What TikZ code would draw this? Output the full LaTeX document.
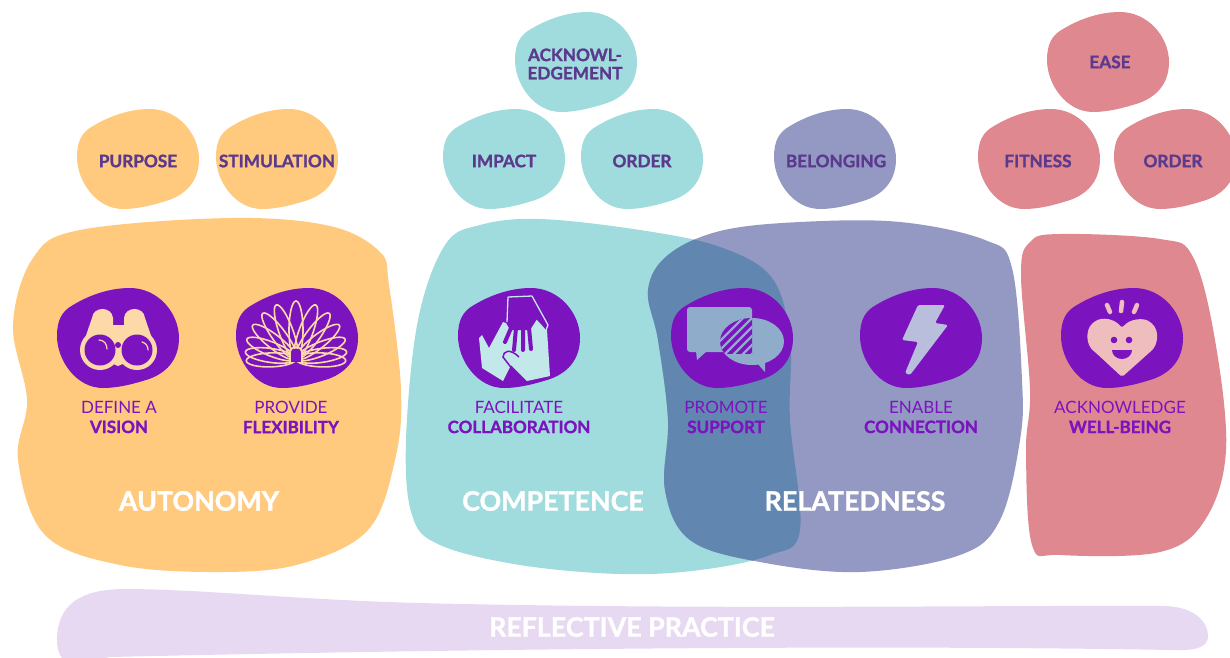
\documentclass[tikz,border=0pt]{standalone}
\usepackage{fontspec}
\setmainfont{Lato}[BoldFeatures={FakeBold=1.3}]
\definecolor{autonomyc}{HTML}{FFC97E}
\definecolor{competencec}{HTML}{A0DCDD}
\definecolor{relatedc}{HTML}{9399C3}
\definecolor{overlapc}{HTML}{6187B1}
\definecolor{wellc}{HTML}{DF888F}
\definecolor{reflectc}{HTML}{E8D9F3}
\definecolor{purplec}{HTML}{7B13BE}
\definecolor{inkc}{HTML}{5B3A8E}
\definecolor{autoiconc}{HTML}{FDD9A8}
\definecolor{handc}{HTML}{C3E8EA}
\definecolor{chatc}{HTML}{8FADCB}
\definecolor{boltc}{HTML}{B8BEDB}
\definecolor{heartc}{HTML}{F0BDBE}
\tikzset{
    blob/.pic={\path[pic actions](-61,-2) .. controls (-61,-18) and (-56,-27) .. (-45,-33) .. controls (-30,-42) and (-10,-50) .. (12,-50) .. controls (40,-50) and (61,-25) .. (61,0) .. controls (61,22) and (48,36) .. (28,42) .. controls (15,46) and (0,50) .. (-15,50) .. controls (-42,50) and (-61,22) .. (-61,-2) -- cycle;}
}
\begin{document}
\begin{tikzpicture}[x=1pt,y=-1pt,
    need/.style={font={\fontsize{17.2}{17.2}\selectfont\bfseries},text=inkc,align=center,inner sep=0pt},
    action/.style={font={\fontsize{17}{20}\selectfont},text=purplec,align=center,inner sep=0pt},
    title/.style={font={\fontsize{26.8}{26.8}\selectfont\bfseries},text=white,inner sep=0pt},
    smoothy/.style={smooth cycle,tension=0.6}]
\useasboundingbox (0,0) rectangle (1230,657);
\clip (0,0) rectangle (1230,657);

% big shapes
\fill[autonomyc] plot[smoothy] coordinates {(13,325) (33,258) (80,230) (230,218) (330,226) (380,252) (389,285) (401,390) (395,460) (368,530) (300,564) (220,572) (120,565) (45,535) (18,460) (27,400)};
\fill[competencec] plot[smoothy] coordinates {(406,440) (418,320) (445,245) (480,225) (540,219) (640,230) (720,247) (772,278) (790,340) (790,420) (800,530) (770,555) (700,570) (620,574) (520,565) (440,545) (412,515)};
\fill[relatedc] plot[smoothy] coordinates {(648,290) (668,255) (720,231) (800,222) (900,222) (985,240) (1012,268) (1022,380) (1020,440) (1000,520) (960,555) (860,572) (760,562) (690,540) (665,490) (668,420) (658,340)};
\begin{scope}
\clip plot[smoothy] coordinates {(406,440) (418,320) (445,245) (480,225) (540,219) (640,230) (720,247) (772,278) (790,340) (790,420) (800,530) (770,555) (700,570) (620,574) (520,565) (440,545) (412,515)};
\fill[overlapc] plot[smoothy] coordinates {(648,290) (668,255) (720,231) (800,222) (900,222) (985,240) (1012,268) (1022,380) (1020,440) (1000,520) (960,555) (860,572) (760,562) (690,540) (665,490) (668,420) (658,340)};
\end{scope}
\fill[wellc] plot[smoothy] coordinates {(1021,275) (1030,242) (1060,234) (1160,239) (1193,257) (1215,340) (1226,450) (1205,520) (1160,552) (1060,555) (1032,545) (1026,450) (1030,390)};
\fill[reflectc] (57,640) .. controls (57,605) and (80,589) .. (125,589) .. controls (200,589) and (300,600) .. (420,603) .. controls (700,610) and (1000,605) .. (1165,606) .. controls (1195,607) and (1208,622) .. (1208,636) .. controls (1208,648) and (1195,651) .. (1170,650) .. controls (900,645) and (500,648) .. (110,657) -- (70,665) .. controls (60,660) and (57,650) .. (57,640) -- cycle;

% bubbles
\pic[fill=autonomyc] at (138,159) {blob};
\pic[fill=autonomyc] at (277,159) {blob};
\pic[fill=competencec] at (504,159) {blob};
\pic[fill=competencec] at (642,159) {blob};
\pic[fill=competencec] at (576,62) {blob};
\pic[fill=relatedc] at (835,159) {blob};
\pic[fill=wellc] at (1039,159) {blob};
\pic[fill=wellc] at (1175,159) {blob};
\pic[fill=wellc] at (1108,62) {blob};
\node[need] (purpose) at (138,161) {PURPOSE};
\node[need] (stimulation) at (277,161) {STIMULATION};
\node[need] (impact) at (504,161) {IMPACT};
\node[need] (orderc) at (642,161) {ORDER};
\node[need] (acknowl) at (575,64) {ACKNOWL-\\[1pt]EDGEMENT};
\node[need] (belonging) at (836,161) {BELONGING};
\node[need] (fitness) at (1038,161) {FITNESS};
\node[need] (orderw) at (1173,161) {ORDER};
\node[need] (ease) at (1110,62) {EASE};

% icon backgrounds
\foreach \x in {118,297,519,732,921,1122}
    \pic[fill=purplec] at (\x,338) {blob};

% binoculars
\fill[autoiconc] (81,350) -- (92,318) .. controls (93,306) and (112,306) .. (113,318) -- (113,325) -- (124,325) -- (124,318) .. controls (125,306) and (144,306) .. (145,318) -- (156,350) -- (118,366) -- cycle;
\fill[autoiconc] (100,350) circle(20);
\fill[autoiconc] (137,350) circle(20);
\fill[purplec] (100,350) circle(15.5);
\fill[purplec] (137,350) circle(15.5);
\fill[purplec] (118,345) circle(3);
\draw[autoiconc,line width=1.2pt,line cap=round] (99,340) .. controls (104,340) and (107,344) .. (107,349);
\draw[autoiconc,line width=1.2pt,line cap=round] (142,342) .. controls (146,343) and (148,346) .. (148,350);

% slinky
\begin{scope}[shift={(296,359)}]
\foreach \a in {-2,8,22,38,54,70,90,110,126,142,158,172,182}{
    \pgfmathsetmacro{\rad}{25+4*sin(\a)}
    \draw[autoiconc,line width=1.6pt,rotate=\a] (\rad,0) ellipse[x radius=\rad,y radius=7];
}
\fill[purplec] (-5,3) rectangle (5,-10);
\draw[autoiconc,line width=1.6pt] (-6,3) -- (-6,-6) arc(180:0:6 and -6) -- (6,3);
\end{scope}

% hands
\fill[handc,line join=round] (479,338) -- (482,335) -- (489,348) -- (503,322) -- (506,323) -- (510,330) -- (535,318) -- (547,330) -- (550,376) -- (527,381) -- (511,365) -- (503,381) -- (482,368) -- cycle;
\draw[purplec,line width=1.5pt] (513,370) -- (503,357) .. controls (503,351) and (510,348) .. (519,357);
\fill[purplec] (508,297) -- (532,296) -- (548,325) -- (546,330) -- (537,319) -- (530,330) -- (510,330) -- (507,320) -- cycle;
\draw[handc,line width=1.3pt,line join=round] (507,322) -- (508,297) -- (532,296) -- (548,325) -- (546,330);
\draw[purplec,line width=4pt,line cap=round] (505,342) -- (511,328) (514,350) -- (516,328) (523,350) -- (523,328) (531,349) -- (529,328);

% chat
\fill[chatc,rounded corners=3pt] (687,307) rectangle (752,352);
\fill[chatc] (696,351) -- (697,360) -- (707,351) -- cycle;
\fill[chatc] (752,341.5) ellipse[x radius=32,y radius=23.5];
\fill[chatc] (756,362) -- (765,372) -- (765,358) -- cycle;
\begin{scope}
\clip (687,307) rectangle (752,353);
\clip (752,341.5) ellipse[x radius=32,y radius=23.5];
\fill[purplec] (680,300) rectangle (760,360);
\foreach \s in {-30,-21,...,30}
    \draw[chatc,line width=2.4pt] (712+\s,370) -- (712+\s+60,310);
\end{scope}

% bolt
\fill[boltc,rounded corners=1.5pt] (918,305) -- (945,305) -- (935,323) -- (948,325) -- (910,375) -- (905,373) -- (918,342) -- (902,340) -- cycle;

% heart
\fill[heartc,rounded corners=2pt] (1122,328) .. controls (1130,318) and (1144,318) .. (1150,322) .. controls (1160,330) and (1158,345) .. (1150,352) -- (1122,377) -- (1095,352) .. controls (1086,345) and (1085,330) .. (1094,322) .. controls (1102,317) and (1114,318) .. (1122,328) -- cycle;
\fill[purplec] (1114,340) circle(3.3);
\fill[purplec] (1129,340) circle(3.3);
\fill[purplec] (1112,350) -- (1132,350) arc(0:180:10 and 9) -- cycle;
\draw[heartc,line width=4.5pt,line cap=round] (1107,305) -- (1110,312) (1122,302) -- (1121,311) (1137,305) -- (1134,312);

% labels
\node[action] (vision) at (119,417) {DEFINE A\\\textbf{VISION}};
\node[action] (flexibility) at (291,417) {PROVIDE\\\textbf{FLEXIBILITY}};
\node[action] (collaboration) at (519,417) {FACILITATE\\\textbf{COLLABORATION}};
\node[action] (support) at (726,417) {PROMOTE\\\textbf{SUPPORT}};
\node[action] (connection) at (921,417) {ENABLE\\\textbf{CONNECTION}};
\node[action] (wellbeing) at (1120,417) {ACKNOWLEDGE\\\textbf{WELL-BEING}};
\node[title] (autonomy) at (199,501) {AUTONOMY};
\node[title] (competence) at (553,501) {COMPETENCE};
\node[title] (relatedness) at (855,501) {RELATEDNESS};
\node[title] (reflective) at (632,627) {REFLECTIVE PRACTICE};
\end{tikzpicture}
\end{document}
